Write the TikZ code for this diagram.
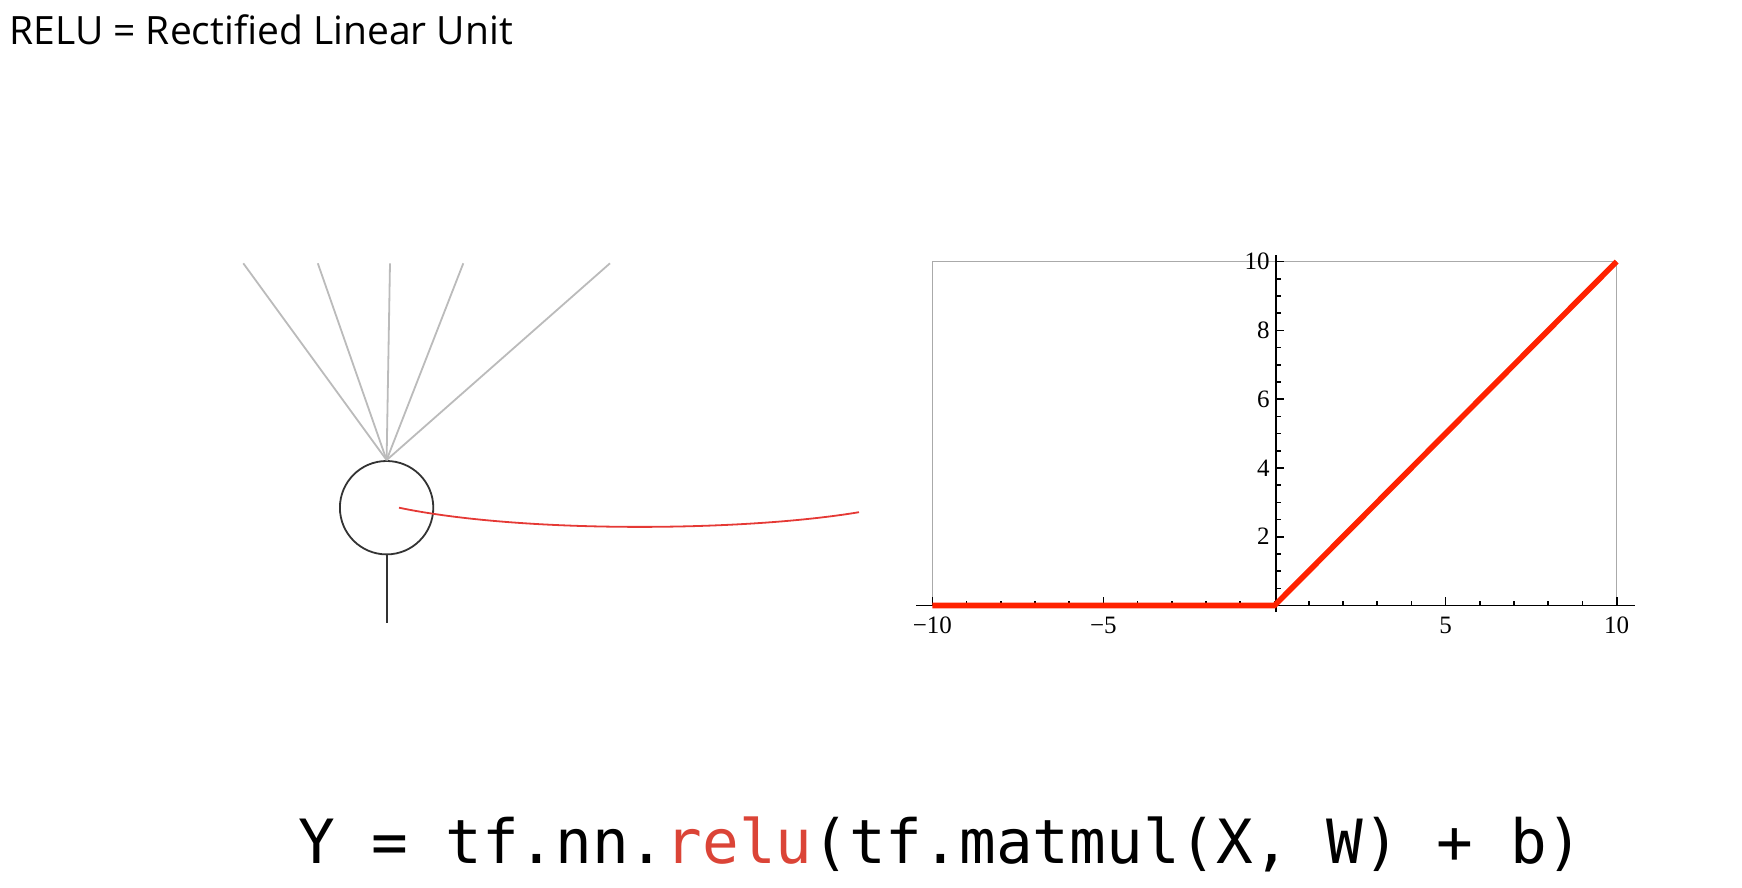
\documentclass[tikz,border=0pt]{standalone}
\usepackage{fontspec}
\setmainfont{Open Sans}
\newfontfamily\codefont{DejaVu Sans Mono}
\newfontfamily\plotfont{Liberation Serif}
\definecolor{inputgray}{HTML}{BBBBBB}
\definecolor{cellgray}{HTML}{333333}
\definecolor{linkred}{HTML}{E53935}
\definecolor{relured}{HTML}{FF2200}
\definecolor{codered}{HTML}{DB4437}
\definecolor{framegray}{HTML}{AAAAAA}
\tikzset{
  inputline/.style={draw=inputgray, line width=0.9pt},
  cell/.style={circle, draw=cellgray, line width=0.9pt, minimum size=46.7pt, inner sep=0pt},
  outline/.style={draw=cellgray, line width=0.9pt},
  linkcurve/.style={draw=linkred, line width=0.9pt},
  axisline/.style={draw=black, line width=0.8pt},
  frameline/.style={draw=framegray, line width=0.5pt},
  reluline/.style={draw=relured, line width=2.8pt},
  ticklbl/.style={font=\plotfont\fontsize{12.5}{14}\selectfont, inner sep=0pt},
}
\begin{document}
\begin{tikzpicture}[x=0.5pt, y=-0.5pt]
\useasboundingbox (0,0) rectangle (1742,888);

% title
\node[anchor=base west, inner sep=0pt, font=\fontsize{19.5}{23}\selectfont] (title) at (9,44.5) {RELU = Rectified Linear Unit};

% neuron
\node[cell] (cell) at (386.6,507.7) {};
\coordinate (in1) at (243.3,263.3);
\coordinate (in2) at (317.8,263.3);
\coordinate (in3) at (390,263.3);
\coordinate (in4) at (463.3,263.3);
\coordinate (in5) at (610,263.3);
\foreach \i in {1,...,5} \draw[inputline] (in\i) -- (cell.north);
\coordinate (out) at (386.6,623.3);
\draw[outline] (cell.south) -- (out);

% link curve
\coordinate (lstart) at (399,507.7);
\coordinate (lend) at (859,512.2);
\draw[linkcurve] (lstart) .. controls (520,533) and (740,532) .. (lend);

% plot frame
\coordinate (fTL) at (932.3,261.5);
\coordinate (fBR) at (1616.7,605.5);
\draw[frameline] (932.3,605.5) -- (fTL) -- (1616.7,261.5) -- (fBR);

% axes
\coordinate (xa0) at (916,605.5);
\coordinate (xa1) at (1635,605.5);
\draw[axisline] (xa0) -- (xa1);
\coordinate (ya0) at (1276,612);
\coordinate (ya1) at (1276,255);
\draw[axisline] (ya0) -- (ya1);

% x ticks
\foreach \u in {-10,...,10} {
  \pgfmathsetmacro\xx{1274.5+34.22*\u}
  \draw[axisline] (\xx,605.5) -- (\xx,601);
}
\foreach \u in {-10,-5,5,10} {
  \pgfmathsetmacro\xx{1274.5+34.22*\u}
  \draw[axisline] (\xx,605.5) -- (\xx,597);
}
\node[ticklbl] (xl1) at ({1274.5-342.2},625) {\char"2212 10};
\node[ticklbl] (xl2) at ({1274.5-171.1},625) {\char"2212 5};
\node[ticklbl] (xl3) at ({1274.5+171.1},625) {5};
\node[ticklbl] (xl4) at ({1274.5+342.2},625) {10};

% y ticks
\foreach \v in {1,...,20} {
  \pgfmathsetmacro\yy{605.5-17.2*\v}
  \draw[axisline] (1276,\yy) -- (1281,\yy);
}
\foreach \v in {2,4,6,8,10} {
  \pgfmathsetmacro\yy{605.5-34.4*\v}
  \draw[axisline] (1276,\yy) -- (1284,\yy);
  \node[ticklbl, anchor=east] at (1270,\yy) {\v};
}

% relu
\coordinate (r0) at (932.3,605.5);
\coordinate (r1) at (1274.5,605.5);
\coordinate (r2) at (1616.7,261.5);
\draw[reluline] (r0) -- (r1) -- (r2);

% code
\node[anchor=base west, inner sep=0pt, font=\codefont\fontsize{30.5}{36}\selectfont] (code) at (298,863)
  {Y = tf.nn.\textcolor{codered}{relu}(tf.matmul(X, W) + b)};
\end{tikzpicture}
\end{document}
